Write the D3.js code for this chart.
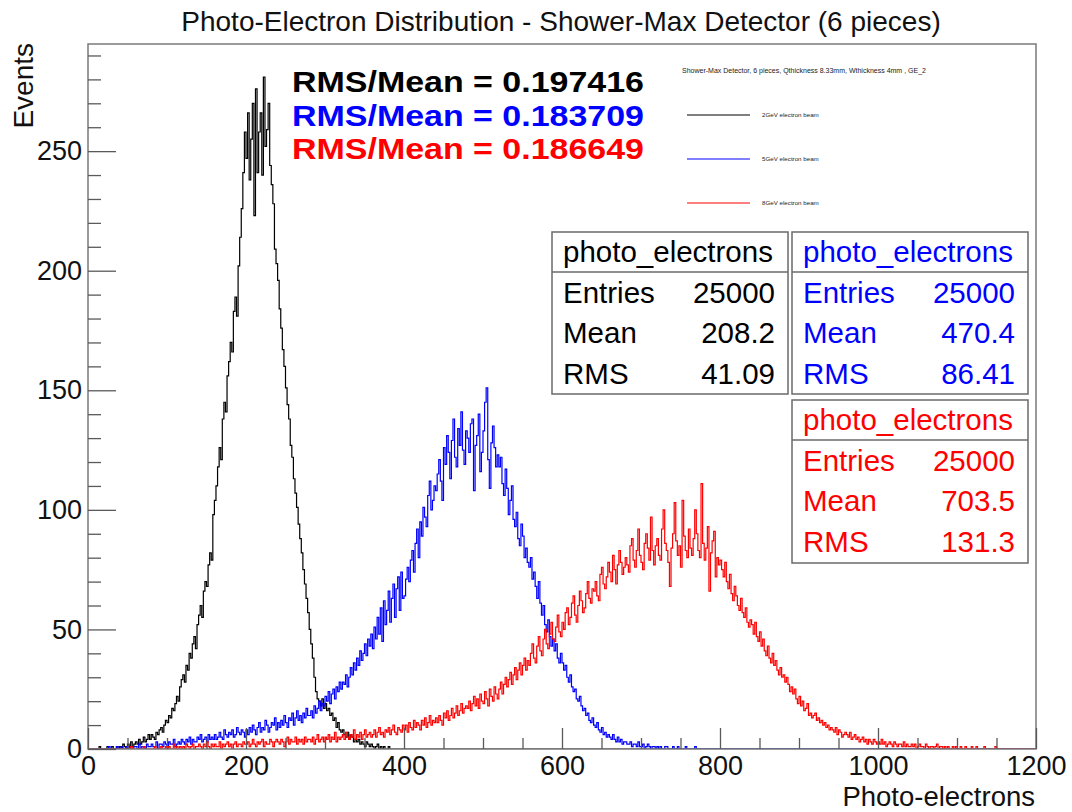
<!DOCTYPE html>
<html>
<head>
<meta charset="utf-8">
<script src="https://cdn.jsdelivr.net/npm/d3@7"></script>
<style>
  html, body { margin: 0; padding: 0; background: #fff; }
  svg { display: block; }
  text { font-family: "Liberation Sans", Arial, Helvetica, sans-serif; }
</style>
</head>
<body>
<svg id="chart" width="1072" height="812"></svg>
<script>
// Histogram contents: counts per photo-electron, in bins of binWidth starting at 0.
// Bins past the end of each list are empty.
const binWidth = 2;
const counts2GeV = [
  0,0,0,0,0,0,0,1,0,0, 0,0,1,0,0,1,0,0,1,0,
  1,0,2,1,0,2,1,3,1,2, 3,2,4,2,3,5,3,4,6,4,
  6,5,4,7,6,8,9,7,10,12, 11,14,13,17,16,19,22,20,26,29,
  31,28,35,33,40,38,44,47,42,52, 56,60,55,66,70,68,77,82,79,98,
  104,110,118,126,121,138,145,141,156,162, 170,166,183,189,181,202,214,226,241,258,
  247,266,238,255,270,223,276,241,258,266, 240,281,252,259,270,244,236,228,209,203,
  196,184,176,167,160,151,144,138,127,122, 113,107,101,94,88,82,75,69,63,57,
  50,44,38,30,24,21,20,18,21,17, 19,16,17,14,15,12,13,9,11,8,
  7,8,6,5,7,4,6,5,3,4, 3,4,2,3,2,1,3,2,1,2,
  1,0,1,2,0,1,0,1,0,0, 1,0,0,0,0,0,0,0,0,0
];
const counts5GeV = [
  0,0,0,0,0,0,0,0,0,0, 0,0,0,1,0,0,0,0,1,0,
  0,1,0,0,1,0,1,0,0,1, 1,0,2,0,1,1,0,2,1,1,
  2,1,1,3,0,2,2,1,3,2, 1,3,2,2,4,1,2,3,2,4,
  3,2,4,3,5,2,4,3,3,5, 4,6,3,4,5,3,6,4,5,4,
  6,4,5,7,5,4,8,6,5,7, 6,8,5,6,9,7,6,8,7,5,
  8,6,9,7,10,8,6,9,11,7, 9,8,12,10,7,9,11,10,13,8,
  11,9,12,10,14,11,9,13,12,15, 10,13,16,12,14,11,15,13,17,14,
  14,16,13,18,15,17,20,16,19,18, 22,20,24,19,23,25,21,26,24,28,
  25,28,27,31,26,30,34,31,36,33, 38,35,41,37,40,44,39,46,43,48,
  42,51,46,55,48,59,45,62,52,58, 66,53,63,69,55,67,72,58,74,63,
  64,71,76,70,79,83,74,86,92,80, 95,89,101,97,93,106,112,100,104,110,
  108,115,121,112,104,126,119,131,124,113, 129,138,122,118,134,127,141,125,119,133,
  130,124,136,138,108,127,131,140,116,124, 133,145,151,121,109,128,135,126,118,123,
  118,122,111,106,117,109,98,104,110,96, 93,99,88,85,94,89,80,84,78,76,
  80,71,74,68,63,70,61,56,60,52, 49,54,47,43,46,41,44,38,36,40,
  36,33,35,30,28,31,26,24,25,21, 20,22,18,16,17,14,15,12,11,13,
  10,9,11,8,7,9,6,7,5,6, 5,4,6,4,3,5,3,4,2,3,
  3,2,2,3,1,2,2,1,3,1, 1,2,0,1,2,1,0,1,1,0,
  1,0,1,0,0,1,1,0,0,0, 1,0,0,1,0,0,0,0,1,0,
  0,0,0,0,1,0,0,0,0,0
];
const counts8GeV = [
  0,0,0,0,0,0,0,0,0,0, 0,0,0,0,0,0,0,0,0,0,
  0,0,0,0,0,0,0,1,0,0, 0,0,0,0,0,1,0,0,0,0,
  0,0,1,0,0,0,1,0,0,1, 0,1,0,0,2,0,1,0,1,0,
  1,0,2,1,0,1,2,0,1,1, 2,1,0,2,1,3,1,0,2,1,
  2,1,1,3,0,2,1,2,3,1, 2,0,2,3,1,2,2,1,3,2,
  2,3,1,2,4,2,1,3,2,3, 4,1,3,2,2,4,3,1,3,4,
  3,2,4,3,1,3,5,2,4,3, 3,5,2,4,3,4,2,5,3,4,
  4,3,5,2,4,6,3,4,5,3, 5,4,6,3,5,4,7,3,5,4,
  5,6,4,7,5,4,6,5,8,4, 6,5,7,4,6,8,5,6,7,5,
  6,8,5,7,9,6,7,5,8,7, 9,6,8,10,7,6,9,8,7,10,
  8,10,7,11,9,8,12,9,11,10, 8,12,10,13,9,11,14,10,12,11,
  13,11,14,12,10,15,13,16,12,14, 17,13,15,18,14,16,19,15,17,18,
  17,20,16,19,22,18,21,17,23,20, 19,24,21,18,25,22,20,26,23,21,
  25,28,23,27,30,26,29,32,27,31, 34,29,33,36,31,35,38,33,37,35,
  40,44,38,36,43,47,41,39,46,50, 44,42,48,53,46,45,51,56,49,47,
  53,50,57,59,52,55,61,64,56,53, 60,66,62,57,59,65,70,63,61,67,
  66,70,64,62,73,76,69,67,72,78, 74,70,81,75,69,77,83,78,73,76,
  80,77,74,85,88,79,76,83,92,81, 78,75,86,90,84,79,97,83,77,85,
  88,81,79,92,100,86,83,78,68,84, 90,103,87,81,85,76,104,89,83,80,
  92,84,81,88,100,90,83,80,111,86, 79,84,93,66,82,87,91,72,80,77,
  79,75,72,78,70,67,73,65,62,68, 64,60,58,63,57,55,59,53,51,54,
  52,48,53,47,45,49,43,46,41,39, 43,38,36,40,35,37,33,31,34,30,
  31,28,30,27,24,26,23,25,21,19, 22,18,20,16,17,19,14,15,13,14,
  15,12,13,11,12,10,11,9,10,8, 9,8,7,9,6,8,7,5,6,7,
  6,5,7,4,5,6,4,5,3,4, 5,3,4,2,4,3,2,4,3,2,
  3,2,4,2,3,1,2,3,2,1, 3,2,1,2,2,1,3,1,2,1,
  1,2,1,2,0,1,2,1,1,0, 2,1,0,1,1,0,1,2,0,1,
  1,0,1,0,1,0,0,1,0,1, 0,0,1,0,0,1,0,0,0,1,
  0,0,1,0,0,0,0,1,0,0, 0,0,0,0,1,0,0,0,0,0
];

const beamLabels = ["2GeV electron beam", "5GeV electron beam", "8GeV electron beam"];
const beamColors = ["#000000", "#0000ff", "#ff0000"];
const ratioLabels = ["RMS/Mean = 0.197416", "RMS/Mean = 0.183709", "RMS/Mean = 0.186649"];
const statEntries = ["25000", "25000", "25000"];
const statMeans = ["208.2", "470.4", "703.5"];
const statRms = ["41.09", "86.41", "131.3"];
const xTickValues = [0, 200, 400, 600, 800, 1000, 1200];
const yTickValues = [0, 50, 100, 150, 200, 250];
const xRange = [0, 1200];
const yMaxValue = 294.8;

const chartTitle = "Photo-Electron Distribution - Shower-Max Detector (6 pieces)";
const legendHeader = "Shower-Max Detector, 6 pieces, Qthickness 8.33mm, Wthickness 4mm , GE_2";

const svg = d3.select("#chart");
const frame = { left: 88, right: 1036, top: 44, bottom: 749 };

const x = d3.scaleLinear().domain(xRange).range([frame.left, frame.right]);
const y = d3.scaleLinear().domain([0, yMaxValue]).range([frame.bottom, frame.top]);

svg.append("rect").attr("width", 1072).attr("height", 812).attr("fill", "#fff");

// Title
svg.append("text")
  .attr("x", 561).attr("y", 31)
  .attr("text-anchor", "middle")
  .attr("font-size", 28)
  .attr("fill", "#111")
  .text(chartTitle);

// Clip for histogram lines
svg.append("clipPath").attr("id", "plotClip")
  .append("rect")
  .attr("x", frame.left).attr("y", frame.top)
  .attr("width", frame.right - frame.left).attr("height", frame.bottom - frame.top);

// Histograms drawn as step outlines, in order (later ones on top)
const nBins = Math.round((xRange[1] - xRange[0]) / binWidth);
const stepLine = d3.line()
  .x(d => x(d[0]))
  .y(d => y(d[1]))
  .curve(d3.curveStepAfter);

[counts2GeV, counts5GeV, counts8GeV].forEach((counts, k) => {
  const pts = d3.range(nBins).map(i => [xRange[0] + i * binWidth, counts[i] || 0]);
  pts.push([xRange[1], pts[pts.length - 1][1]]);
  svg.append("path")
    .attr("clip-path", "url(#plotClip)")
    .attr("d", stepLine(pts))
    .attr("fill", "none")
    .attr("stroke", beamColors[k])
    .attr("stroke-width", 1.2)
    .attr("stroke-linejoin", "miter");
});

// Frame
svg.append("rect")
  .attr("x", frame.left).attr("y", frame.top)
  .attr("width", frame.right - frame.left).attr("height", frame.bottom - frame.top)
  .attr("fill", "none").attr("stroke", "#7a7a7a").attr("stroke-width", 1.5);

// Axes: major ticks with labels, minor ticks without
const axisColor = "#5a5a5a";
function styleAxis(g) {
  g.select(".domain").remove();
  g.selectAll(".tick line").attr("stroke", axisColor).attr("stroke-width", 1.3);
  g.selectAll(".tick text")
    .attr("fill", "#111")
    .attr("font-family", "\"Liberation Sans\", Arial, sans-serif")
    .attr("font-size", 27);
}

const xMinor = d3.range(xRange[0], xRange[1] + 1, 50).filter(v => !xTickValues.includes(v));
const yMinor = d3.range(0, yMaxValue, 10).filter(v => !yTickValues.includes(v));

svg.append("g")
  .attr("transform", `translate(0,${frame.bottom})`)
  .call(d3.axisBottom(x).tickValues(xMinor).tickSize(-11).tickFormat(""))
  .call(styleAxis);
svg.append("g")
  .attr("transform", `translate(0,${frame.bottom})`)
  .call(d3.axisBottom(x).tickValues(xTickValues).tickSize(-21).tickPadding(7).tickFormat(d3.format("d")))
  .call(styleAxis);

svg.append("g")
  .attr("transform", `translate(${frame.left},0)`)
  .call(d3.axisLeft(y).tickValues(yMinor).tickSize(-13).tickFormat(""))
  .call(styleAxis);
svg.append("g")
  .attr("transform", `translate(${frame.left},0)`)
  .call(d3.axisLeft(y).tickValues(yTickValues).tickSize(-28).tickPadding(6).tickFormat(d3.format("d")))
  .call(styleAxis);

// Axis titles
svg.append("text")
  .attr("x", 1035).attr("y", 806)
  .attr("text-anchor", "end")
  .attr("font-size", 27.5).attr("fill", "#111")
  .text("Photo-electrons");
svg.append("text")
  .attr("transform", "translate(33,43) rotate(-90)")
  .attr("text-anchor", "end")
  .attr("font-size", 28).attr("fill", "#111")
  .text("Events");

// RMS/Mean annotations (slightly wide bold face)
ratioLabels.forEach((t, k) => {
  svg.append("text")
    .attr("x", 292).attr("y", 92 + k * 33.5)
    .attr("font-size", 29.8).attr("font-weight", "bold")
    .attr("textLength", 352).attr("lengthAdjust", "spacingAndGlyphs")
    .attr("fill", beamColors[k])
    .text(t);
});

// Legend
svg.append("text")
  .attr("x", 682).attr("y", 72.5)
  .attr("font-size", 7).attr("fill", "#222")
  .text(legendHeader);
const legendRowY = [115, 159, 203];
beamLabels.forEach((t, k) => {
  svg.append("line")
    .attr("x1", 687).attr("x2", 750)
    .attr("y1", legendRowY[k]).attr("y2", legendRowY[k])
    .attr("stroke", beamColors[k]).attr("stroke-width", 1);
  svg.append("text")
    .attr("x", 762).attr("y", legendRowY[k] + 2.2)
    .attr("font-size", 6.2).attr("fill", "#222")
    .text(t);
});

// Statistics boxes
const statBoxes = [
  { x0: 552, x1: 788, y0: 232, y1: 394 },
  { x0: 792, x1: 1028, y0: 232, y1: 394 },
  { x0: 792, x1: 1028, y0: 400, y1: 563 }
];
statBoxes.forEach((b, k) => {
  const g = svg.append("g");
  g.append("rect")
    .attr("x", b.x0).attr("y", b.y0)
    .attr("width", b.x1 - b.x0).attr("height", b.y1 - b.y0)
    .attr("fill", "#fff").attr("stroke", "#6a6a6a").attr("stroke-width", 1.5);
  g.append("line")
    .attr("x1", b.x0).attr("x2", b.x1)
    .attr("y1", b.y0 + 40).attr("y2", b.y0 + 40)
    .attr("stroke", "#6a6a6a").attr("stroke-width", 1.5);
  const col = beamColors[k];
  const fs = 29.5;
  g.append("text")
    .attr("x", b.x0 + 11).attr("y", b.y0 + 29.5)
    .attr("font-size", fs).attr("fill", col)
    .text("photo_electrons");
  const rows = [["Entries", statEntries[k]], ["Mean", statMeans[k]], ["RMS", statRms[k]]];
  rows.forEach((r, i) => {
    const yy = b.y0 + 70.5 + i * 40.5;
    g.append("text").attr("x", b.x0 + 11).attr("y", yy)
      .attr("font-size", fs).attr("fill", col).text(r[0]);
    g.append("text").attr("x", b.x1 - 13).attr("y", yy)
      .attr("text-anchor", "end")
      .attr("font-size", fs).attr("fill", col).text(r[1]);
  });
});
</script>
</body>
</html>
